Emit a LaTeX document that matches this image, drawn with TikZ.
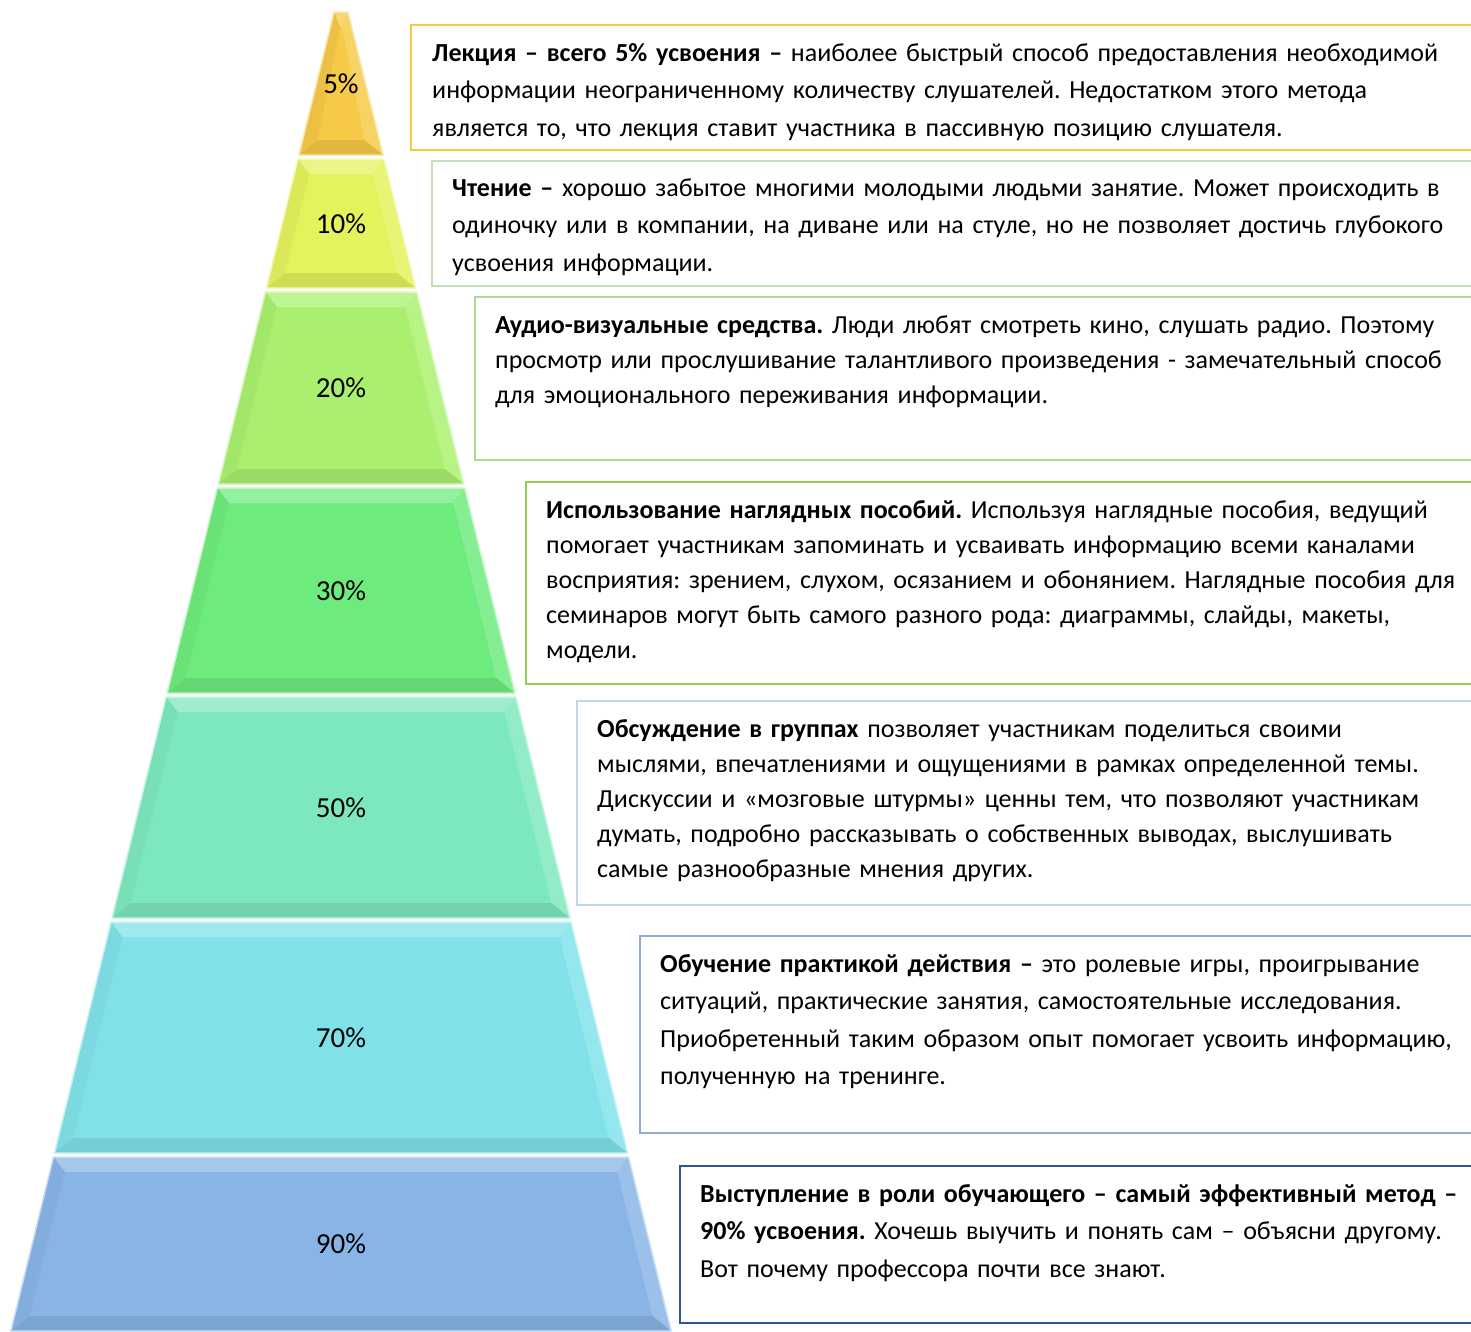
\documentclass[tikz,border=0pt]{standalone}
\usepackage{fontspec}
\setmainfont{Carlito}
\usepackage{xcolor}
\usetikzlibrary{positioning,calc}

\definecolor{lay5}{RGB}{246,201,70}
\definecolor{lay10}{RGB}{228,242,92}
\definecolor{lay20}{RGB}{170,240,110}
\definecolor{lay30}{RGB}{110,235,125}
\definecolor{lay50}{RGB}{125,232,190}
\definecolor{lay70}{RGB}{128,226,232}
\definecolor{lay90}{RGB}{136,180,230}
\definecolor{edge1}{RGB}{250,200,60}
\definecolor{edge2}{RGB}{197,224,180}
\definecolor{edge3}{RGB}{175,218,145}
\definecolor{edge4}{RGB}{146,208,80}
\definecolor{edge5}{RGB}{189,215,238}
\definecolor{edge6}{RGB}{143,170,220}
\definecolor{edge7}{RGB}{47,85,151}

\tikzset{
  pct/.style={font=\fontsize{29}{32}\selectfont},
  infobox/.style={line width=1.5pt},
  infotext/.style={anchor=base west, inner sep=0pt, text width=1100pt, align=left,
    font=\fontsize{26}{37.5}\selectfont\frenchspacing},
  infotight/.style={infotext, font=\fontsize{26}{35}\selectfont\frenchspacing}
}

% one layer of the pyramid: top y, bottom y, colour, name, label
\newcommand{\pyrlayer}[5]{%
  \pgfmathsetmacro{\wt}{7+0.245*(#1-12)}%
  \pgfmathsetmacro{\wb}{7+0.245*(#2-12)}%
  \pgfmathsetmacro{\wit}{max(7+0.245*(#1+3)-15,1)}%
  \pgfmathsetmacro{\wib}{7+0.245*(#2-27)-15}%
  \pgfmathsetmacro{\ym}{(#1+#2)/2}%
  \coordinate (#4-tl) at (341-\wt,#1);
  \coordinate (#4-tr) at (341+\wt,#1);
  \coordinate (#4-br) at (341+\wb,#2);
  \coordinate (#4-bl) at (341-\wb,#2);
  \coordinate (#4-itl) at (341-\wit,#1+15);
  \coordinate (#4-itr) at (341+\wit,#1+15);
  \coordinate (#4-ibr) at (341+\wib,#2-15);
  \coordinate (#4-ibl) at (341-\wib,#2-15);
  \fill[#3] (#4-tl) -- (#4-tr) -- (#4-br) -- (#4-bl) -- cycle;
  \fill[#3!75!white] (#4-tl) -- (#4-tr) -- (#4-itr) -- (#4-itl) -- cycle;
  \fill[#3!84!white] (#4-tr) -- (#4-br) -- (#4-ibr) -- (#4-itr) -- cycle;
  \fill[#3!91!black] (#4-bl) -- (#4-br) -- (#4-ibr) -- (#4-ibl) -- cycle;
  \fill[#3!96!black] (#4-tl) -- (#4-itl) -- (#4-ibl) -- (#4-bl) -- cycle;
  \draw[#3!45!white, line width=1.5pt, line join=round]
    (#4-tl) -- (#4-tr) -- (#4-br) -- (#4-bl) -- cycle;
  \node[pct] (#4) at (341,\ym) {#5};
}

\begin{document}
\begin{tikzpicture}[x=1pt,y=-1pt]
  \useasboundingbox (0,0) rectangle (1471,1331);
  \clip (0,0) rectangle (1471,1331);

  \pyrlayer{12}{155}{lay5}{p5}{5\%}
  \pyrlayer{159}{288}{lay10}{p10}{10\%}
  \pyrlayer{292}{484}{lay20}{p20}{20\%}
  \pyrlayer{488}{693}{lay30}{p30}{30\%}
  \pyrlayer{697}{918}{lay50}{p50}{50\%}
  \pyrlayer{922}{1153}{lay70}{p70}{70\%}
  \pyrlayer{1157}{1331}{lay90}{p90}{90\%}

  % boxes on the right
  \draw[infobox, edge1] (411,25) rectangle (1490,150);
  \node[infotext] (t1) at (432,61)
    {\textbf{Лекция – всего 5\% усвоения –} наиболее быстрый способ предоставления необходимой\\
     информации неограниченному количеству слушателей. Недостатком этого метода\\
     является то, что лекция ставит участника в пассивную позицию слушателя.};

  \draw[infobox, edge2] (432,161) rectangle (1490,286);
  \node[infotext] (t2) at (452,196)
    {\textbf{Чтение –} хорошо забытое многими молодыми людьми занятие. Может происходить в\\
     одиночку или в компании, на диване или на стуле, но не позволяет достичь глубокого\\
     усвоения информации.};

  \draw[infobox, edge3] (475,297) rectangle (1490,460);
  \node[infotight] (t3) at (495,333)
    {\textbf{Аудио-визуальные средства.} Люди любят смотреть кино, слушать радио. Поэтому\\
     просмотр или прослушивание талантливого произведения - замечательный способ\\
     для эмоционального переживания информации.};

  \draw[infobox, edge4] (526,482) rectangle (1490,684);
  \node[infotight] (t4) at (546,518)
    {\textbf{Использование наглядных пособий.} Используя наглядные пособия, ведущий\\
     помогает участникам запоминать и усваивать информацию всеми каналами\\
     восприятия: зрением, слухом, осязанием и обонянием. Наглядные пособия для\\
     семинаров могут быть самого разного рода: диаграммы, слайды, макеты,\\
     модели.};

  \draw[infobox, edge5] (577,701) rectangle (1490,905);
  \node[infotight] (t5) at (597,737)
    {\textbf{Обсуждение в группах} позволяет участникам поделиться своими\\
     мыслями, впечатлениями и ощущениями в рамках определенной темы.\\
     Дискуссии и «мозговые штурмы» ценны тем, что позволяют участникам\\
     думать, подробно рассказывать о собственных выводах, выслушивать\\
     самые разнообразные мнения других.};

  \draw[infobox, edge6] (640,936) rectangle (1490,1133);
  \node[infotext] (t6) at (660,972)
    {\textbf{Обучение практикой действия –} это ролевые игры, проигрывание\\
     ситуаций, практические занятия, самостоятельные исследования.\\
     Приобретенный таким образом опыт помогает усвоить информацию,\\
     полученную на тренинге.};

  \draw[infobox, edge7] (680,1166) rectangle (1490,1323);
  \node[infotext] (t7) at (700,1202)
    {\textbf{Выступление в роли обучающего – самый эффективный метод –}\\
     \textbf{90\% усвоения.} Хочешь выучить и понять сам – объясни другому.\\
     Вот почему профессора почти все знают.};
\end{tikzpicture}
\end{document}
